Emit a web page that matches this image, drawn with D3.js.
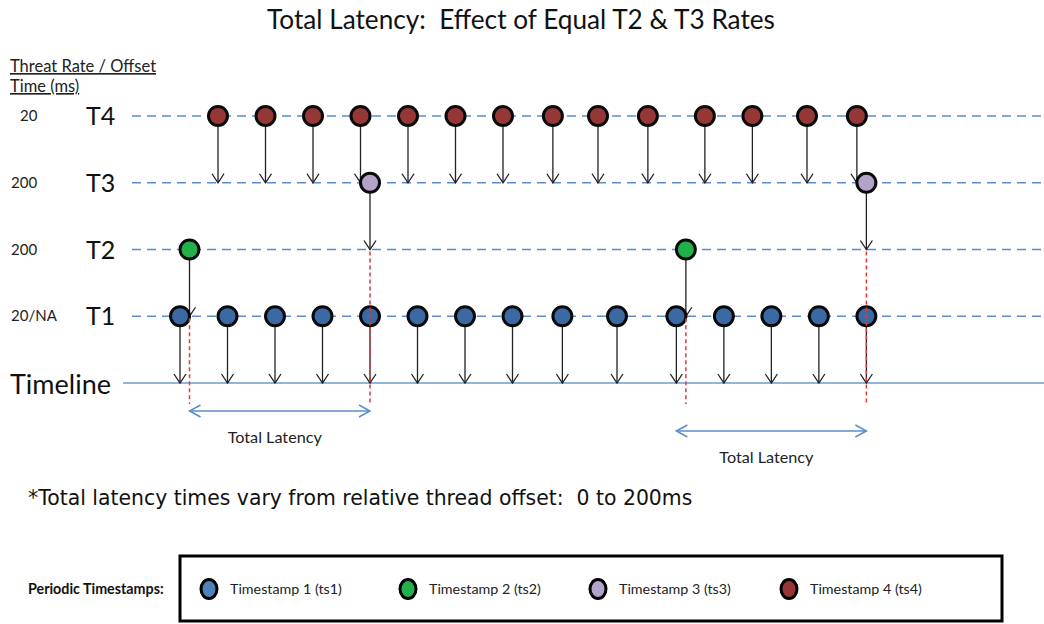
<!DOCTYPE html>
<html><head><meta charset="utf-8">
<script src="https://cdn.jsdelivr.net/npm/d3@7"></script>
<style>body{margin:0;background:#fff}svg{display:block}text{white-space:pre}</style>
</head><body>
<script>
// ---- data ----
const rows = ["T4", "T3", "T2", "T1", "Timeline"];
const rateLabels = ["20", "200", "200", "20/NA"];
const t4Times = [16, 36, 56, 76, 96, 116, 136, 157, 176, 197, 221, 241, 264, 285];
const t3Times = [80, 289];
const t2Times = [4, 213];
const t1Times = [0, 20, 40, 60, 80, 100, 120, 140, 161, 184, 209, 229, 249, 269, 289];
const latencyStart = [4, 209];
const latencyEnd = [80, 289];
const markerTimes = [4, 80, 213, 289];
const markerFromRow = ["T1", "T2", "T1", "T2"];
const legendLabels = ["Timestamp 1 (ts1)", "Timestamp 2 (ts2)", "Timestamp 3 (ts3)", "Timestamp 4 (ts4)"];
const titleText = "Total Latency:  Effect of Equal T2 & T3 Rates";
const footText = "*Total latency times vary from relative thread offset:  0 to 200ms";

// ---- layout ----
const W = 1044, H = 624;
const svg = d3.select("body").append("svg").attr("width", W).attr("height", H);
const x = d3.scaleLinear().domain([0, 400]).range([180, 1130]);
const y = d3.scalePoint().domain(rows).range([116, 383]);
const colors = { T1: "#3a69a4", T2: "#22b04b", T3: "#b4a3c8", T4: "#953735" };
const legendColors = ["#4f81bd", "#22b04b", "#b4a3c8", "#953735"];
const lineBlue = "#5a8dcc";
const font = "Lato, 'Open Sans', sans-serif";

// title
svg.append("text").attr("x", 521).attr("y", 29).attr("text-anchor", "middle")
  .attr("font-family", font).attr("font-size", 26.2).attr("fill", "#111").text(titleText);

// header
svg.append("text").attr("x", 10).attr("y", 72).attr("font-family", font).attr("font-size", 16.5)
  .attr("fill", "#222").attr("text-decoration", "underline").text("Threat Rate / Offset");
svg.append("text").attr("x", 10).attr("y", 92).attr("font-family", font).attr("font-size", 16.5)
  .attr("fill", "#222").attr("text-decoration", "underline").text("Time (ms)");

// row labels
const rowT = rows.slice(0, 4);
svg.selectAll("text.rate").data(rowT).enter().append("text").attr("class", "rate")
  .attr("x", (d, i) => i === 0 ? 20 : 11).attr("y", d => y(d) + 5)
  .attr("font-family", font).attr("font-size", 15).attr("fill", "#222")
  .text((d, i) => rateLabels[i]);
svg.selectAll("text.tlab").data(rowT).enter().append("text").attr("class", "tlab")
  .attr("x", 86).attr("y", d => y(d) + 9)
  .attr("font-family", font).attr("font-size", 25).attr("fill", "#111").text(d => d);
svg.append("text").attr("x", 10).attr("y", y("Timeline") + 11)
  .attr("font-family", font).attr("font-size", 27).attr("fill", "#111").text("Timeline");

// dashed row lines
svg.selectAll("line.row").data(rowT).enter().append("line").attr("class", "row")
  .attr("x1", 132).attr("x2", W).attr("y1", d => y(d)).attr("y2", d => y(d))
  .attr("stroke", lineBlue).attr("stroke-width", 1.5).attr("stroke-dasharray", "9,6");
svg.append("line").attr("x1", 123).attr("x2", W).attr("y1", y("Timeline")).attr("y2", y("Timeline"))
  .attr("stroke", "#6f9ad2").attr("stroke-width", 1.5);

// arrows (each row points down to the next row)
const series = [
  { row: "T4", to: "T3", times: t4Times },
  { row: "T3", to: "T2", times: t3Times },
  { row: "T2", to: "T1", times: t2Times },
  { row: "T1", to: "Timeline", times: t1Times }
];
const arrowG = svg.append("g").attr("stroke", "#222").attr("stroke-width", 1.3).attr("fill", "none");
series.forEach(s => {
  s.times.forEach(t => {
    const xx = x(t), y0 = y(s.row), y1 = y(s.to);
    arrowG.append("line").attr("x1", xx).attr("x2", xx).attr("y1", y0).attr("y2", y1);
    arrowG.append("path").attr("d", `M${xx - 6},${y1 - 9}L${xx},${y1}L${xx + 6},${y1 - 9}`);
  });
});

// circles
series.forEach(s => {
  svg.selectAll(null).data(s.times).enter().append("circle")
    .attr("cx", d => x(d)).attr("cy", y(s.row)).attr("r", 9.5)
    .attr("fill", colors[s.row]).attr("stroke", "#0a0a0a").attr("stroke-width", 3);
});

// red dashed markers
svg.selectAll("line.mark").data(markerTimes).enter().append("line").attr("class", "mark")
  .attr("x1", d => x(d)).attr("x2", d => x(d))
  .attr("y1", (d, i) => y(markerFromRow[i]) + 2).attr("y2", 404)
  .attr("stroke", "#e03a3a").attr("stroke-width", 1.5).attr("stroke-dasharray", "4,3");

// latency arrows
const latY = [411, 431];
latencyStart.forEach((s, i) => {
  const a = x(s), b = x(latencyEnd[i]), yy = latY[i];
  const g = svg.append("g").attr("stroke", "#5b8ccb").attr("stroke-width", 1.5).attr("fill", "none");
  g.append("line").attr("x1", a).attr("x2", b).attr("y1", yy).attr("y2", yy);
  g.append("path").attr("d", `M${a + 11},${yy - 6}L${a},${yy}L${a + 11},${yy + 6}`);
  g.append("path").attr("d", `M${b - 11},${yy - 6}L${b},${yy}L${b - 11},${yy + 6}`);
  svg.append("text").attr("x", (a + b) / 2 - 5).attr("y", yy + 32).attr("text-anchor", "middle")
    .attr("font-family", font).attr("font-size", 16.2).attr("fill", "#222").text("Total Latency");
});

// footnote
svg.append("text").attr("x", 28).attr("y", 505).attr("font-family", "'DejaVu Sans', sans-serif")
  .attr("font-size", 20.4).attr("fill", "#111").text(footText);

// legend
svg.append("rect").attr("x", 180).attr("y", 556).attr("width", 822).attr("height", 65)
  .attr("fill", "#fff").attr("stroke", "#000").attr("stroke-width", 3);
svg.append("text").attr("x", 28).attr("y", 594).attr("font-family", font).attr("font-weight", "bold")
  .attr("font-size", 14.3).attr("fill", "#111").text("Periodic Timestamps:");
const legX = [209, 408, 598, 789];
legendLabels.forEach((lab, i) => {
  svg.append("ellipse").attr("cx", legX[i]).attr("cy", 589).attr("rx", 8).attr("ry", 9.5)
    .attr("fill", legendColors[i]).attr("stroke", "#000").attr("stroke-width", 3);
  svg.append("text").attr("x", legX[i] + 21).attr("y", 594).attr("font-family", font)
    .attr("font-size", 14.3).attr("fill", "#222").text(lab);
});
</script>
</body></html>
